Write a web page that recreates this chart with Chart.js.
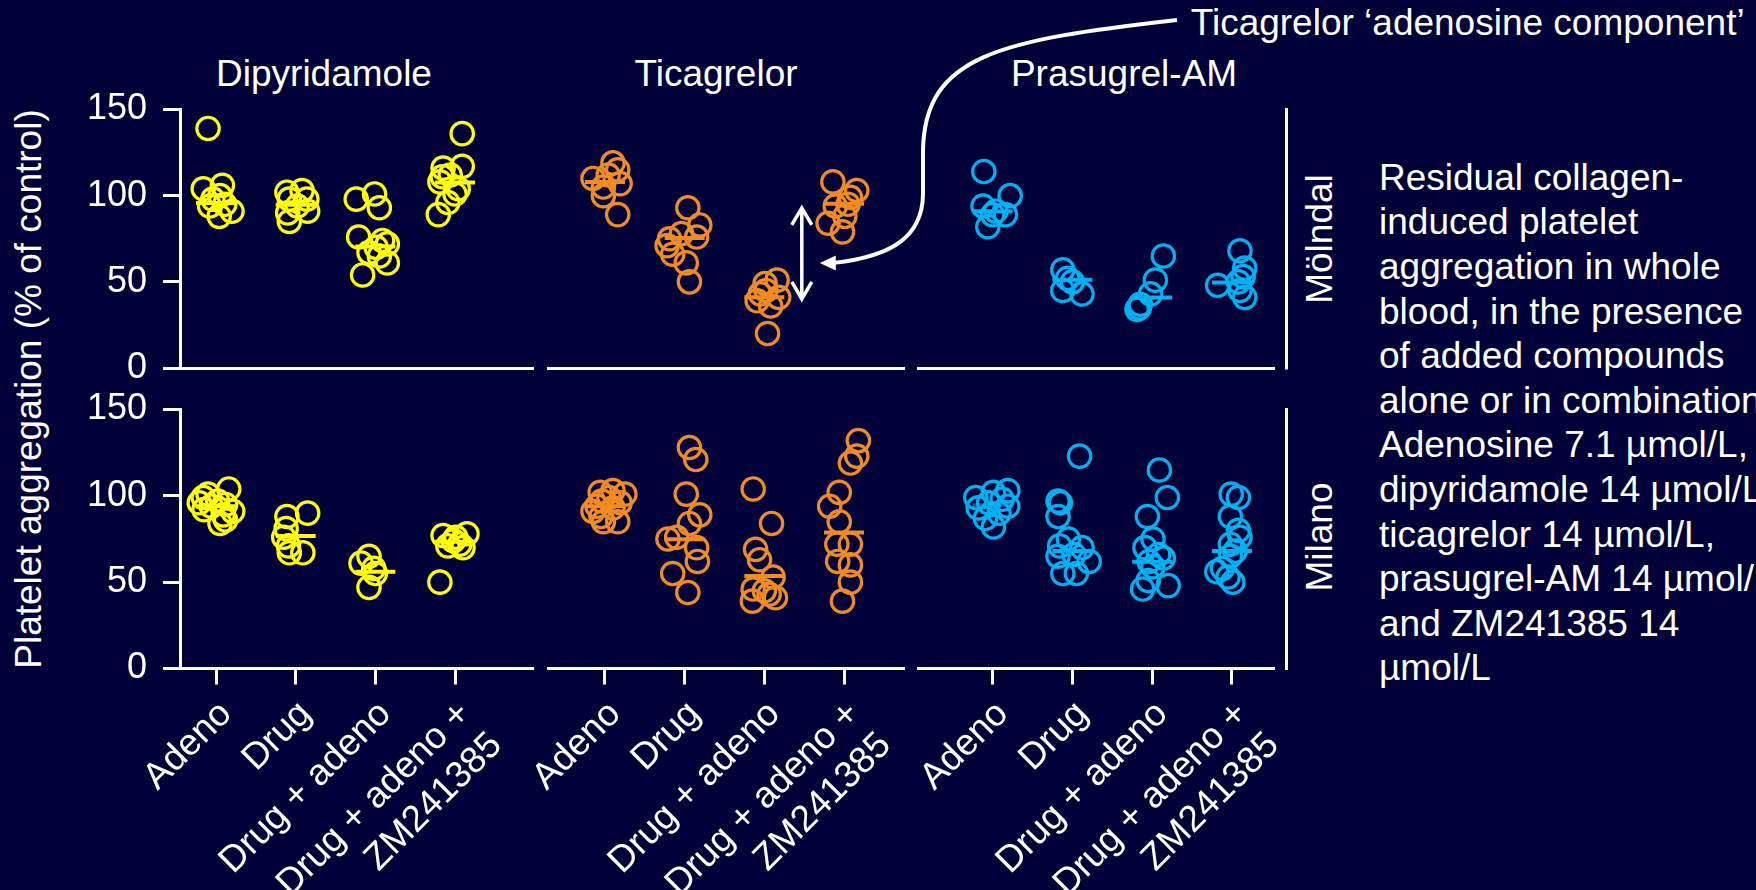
<!DOCTYPE html>
<html>
<head>
<meta charset="utf-8">
<script src="https://cdn.jsdelivr.net/npm/chart.js"></script>
<style>
  html, body { margin: 0; padding: 0; width: 1756px; height: 890px; overflow: hidden; background: #000038; }
  body { position: relative; font-family: "Liberation Sans", Arial, sans-serif; color: #fff; }
  canvas { position: absolute; left: 0; top: 0; }
  .t { position: absolute; white-space: pre; font-size: 37px; line-height: 37px; }
  .c { transform: translateX(-50%); }
  .r { transform: translate(-50%, -50%) rotate(-90deg); }
  .note { line-height: 44.6px; }
</style>
</head>
<body>
<div class="t" style="left:1190.7px; top:3.7px;">Ticagrelor ‘adenosine component’</div>
<div class="t c" style="left:324px; top:55.2px;">Dipyridamole</div>
<div class="t c" style="left:716px; top:55.2px;">Ticagrelor</div>
<div class="t c" style="left:1124px; top:55.2px;">Prasugrel-AM</div>
<div class="t r" style="left:28.2px; top:389px;">Platelet aggregation (% of control)</div>
<div class="t r" style="left:1319.2px; top:238.5px;">Mölndal</div>
<div class="t r" style="left:1319.2px; top:537px;">Milano</div>
<div class="t note" style="left:1379px; top:155.9px;">Residual collagen-
induced platelet
aggregation in whole
blood, in the presence
of added compounds
alone or in combination.
Adenosine 7.1 µmol/L,
dipyridamole 14 µmol/L,
ticagrelor 14 µmol/L,
prasugrel-AM 14 µmol/L
and ZM241385 14
µmol/L</div>

<script>
// ---- Data: platelet aggregation (% of control), one sub-array per treatment ----
const categories = ['Adeno', 'Drug', 'Drug + adeno', ['Drug + adeno +', 'ZM241385']];
const yTicks = [0, 50, 100, 150];

// Dipyridamole, Mölndal
const dipMolndal = [
  [139, 104, 106, 100, 94, 91, 88, 95, 98],
  [102, 103, 98, 98, 90, 85, 91, 94],
  [98, 101, 93, 76, 74, 72, 70, 67, 61, 54, 65],
  [136, 117, 116, 108, 101, 96, 89, 111, 104, 112]
];
const dipMolndalMedian = [95.7, 94.8, 70.5, 107.7];

// Ticagrelor, Mölndal
const ticMolndal = [
  [110, 119, 115, 107, 105, 100, 89, 112],
  [93, 83, 78, 76, 75, 71, 66, 61, 50],
  [49, 51, 43, 41, 36, 39, 20, 45],
  [108, 103, 99, 94, 88, 84, 79, 95]
];
const ticMolndalMedian = [108, 75.4, 41.1, 95.3];

// Prasugrel-AM, Mölndal
const prasMolndal = [
  [114, 100, 94, 89, 89, 82, 91],
  [57, 52, 45, 43, 50],
  [65, 51, 43, 37, 34, 35],
  [68, 58, 53, 45, 41, 48, 50]
];
const prasMolndalMedian = [90.9, 51.2, 40.9, 49.6];

// Dipyridamole, Milano
const dipMilano = [
  [104, 99, 101, 96, 97, 94, 92, 91, 89, 86, 84, 95],
  [90, 88, 81, 76, 71, 67, 67],
  [65, 61, 58, 55, 47],
  [78, 77, 76, 72, 71, 70, 74, 50]
];
const dipMilanoMedian = [94, 76.8, 56, 73.4];

// Ticagrelor, Milano
const ticMilano = [
  [102, 103, 101, 97, 96, 93, 91, 88, 85, 85, 99, 94],
  [128, 121, 101, 89, 84, 75, 76, 70, 62, 55, 44],
  [104, 84, 69, 63, 53, 46, 41, 39, 45, 43],
  [132, 123, 119, 102, 94, 85, 72, 72, 62, 60, 50, 39]
];
const ticMilanoMedian = [94, 74.9, 53.5, 78.8];

// Prasugrel-AM, Milano
const prasMilano = [
  [99, 102, 103, 93, 98, 94, 87, 82, 96, 90],
  [123, 97, 96, 88, 75, 71, 70, 65, 62, 55, 55, 66],
  [115, 99, 88, 75, 70, 64, 59, 51, 46, 48, 62, 66],
  [101, 99, 88, 80, 76, 72, 65, 56, 58, 53, 50, 68]
];
const prasMilanoMedian = [94.6, 68, 61.8, 68];

// Horizontal scatter of each dot around its category, in category widths
const dipMolndalSpread = [
  [-0.1, -0.16, 0.08, 0.05, -0.08, 0.2, 0.04, 0.11, -0.04],
  [-0.11, 0.08, -0.08, 0.14, -0.1, -0.08, 0.15, 0.02],
  [-0.24, -0.01, 0.05, -0.21, 0.09, 0.15, 0.01, -0.08, 0.15, -0.16, 0.05],
  [0.09, 0.09, -0.15, -0.19, 0, -0.09, -0.21, -0.16, 0.04, -0.06]
];
const ticMolndalSpread = [
  [-0.15, 0.1, 0.16, 0.19, -0.02, -0.02, 0.16, 0.04],
  [0.04, 0.19, -0.04, 0.15, -0.19, -0.22, -0.15, 0.02, 0.06],
  [0.01, 0.16, -0.05, 0.18, 0.08, -0.09, 0.04, 0.02],
  [-0.14, 0.16, 0.08, -0.11, 0.01, -0.2, -0.02, 0.05]
];
const prasMolndalSpread = [
  [-0.11, 0.22, -0.12, 0.16, 0, -0.06, 0.04],
  [-0.12, -0.06, -0.12, 0.12, 0],
  [0.14, 0.04, -0.02, -0.15, -0.19, -0.16],
  [0.1, 0.16, 0.14, 0.1, 0.16, -0.18, 0.08]
];
const dipMilanoSpread = [
  [0.16, -0.16, -0.1, -0.21, 0.02, -0.06, -0.15, 0.21, 0.09, 0.12, 0.05, 0.12],
  [0.15, -0.11, -0.12, -0.15, -0.09, -0.08, 0.09],
  [-0.08, -0.18, -0.02, 0, -0.08],
  [0.15, -0.15, 0.01, 0.06, -0.09, 0.1, -0.02, -0.19]
];
const ticMilanoSpread = [
  [-0.06, 0.1, 0.25, -0.04, 0.19, 0.1, -0.15, -0.05, 0.16, -0.02, 0.05, -0.1],
  [0.06, 0.14, 0.02, 0.19, 0.06, -0.21, -0.1, 0.15, 0.16, -0.15, 0.04],
  [-0.14, 0.09, -0.11, -0.06, 0.11, -0.14, 0.14, -0.15, 0, 0.06],
  [0.18, 0.16, 0.08, -0.06, -0.18, -0.06, -0.09, 0.08, -0.08, 0.08, 0.08, -0.02]
];
const prasMilanoSpread = [
  [-0.21, 0.01, 0.19, -0.18, 0.12, 0.19, -0.09, 0.01, -0.05, 0.08],
  [0.09, -0.18, -0.15, -0.18, -0.05, -0.16, 0.12, -0.18, 0.21, -0.12, 0.05, 0.02],
  [0.09, 0.19, -0.06, 0.01, -0.09, 0.14, 0.01, -0.05, -0.12, 0.2, -0.04, 0.08],
  [-0.01, 0.08, -0.02, 0.08, 0.1, -0.02, -0.02, -0.19, -0.12, -0.05, 0.01, 0.04]
];

// Span of the ticagrelor 'adenosine component' arrow and where the callout meets it
const componentSpan = [39.5, 93.5];
const componentPointer = 61;
const componentSlot = 2.47;

// ---- Styling and layout ----
const YELLOW = '#FFFF00', ORANGE = '#F08C23', BLUE = '#00B0F0', WHITE = '#FFFFFF';
const W = 1756, H = 890;
const rows = [{ top: 109.5, bottom: 368 }, { top: 409.5, bottom: 668.5 }];
const cols = [
  { left: 180, right: 532, min: -0.452, max: 3.966 },
  { left: 548, right: 903, min: -0.715, max: 3.74 },
  { left: 918, right: 1273, min: -0.935, max: 3.514 }
];

Chart.defaults.font.family = '"Liberation Sans", Arial, sans-serif';
Chart.defaults.color = WHITE;

const zeroPad = s => { s.paddingLeft = 0; s.paddingRight = 0; s.paddingTop = 0; s.paddingBottom = 0; };

// Vertical bracket line to the right of each row
const rowBracket = {
  id: 'rowBracket',
  afterDraw(chart) {
    const { ctx, chartArea, scales } = chart;
    const x = chartArea.right + 13.5;
    ctx.save();
    ctx.strokeStyle = WHITE;
    ctx.lineWidth = 3;
    ctx.beginPath();
    ctx.moveTo(x, scales.y.getPixelForValue(150) - 1.5);
    ctx.lineTo(x, scales.y.getPixelForValue(0) + 1.5);
    ctx.stroke();
    ctx.restore();
  }
};

// Double arrow between the ticagrelor medians and the curved callout from the label
const componentCallout = {
  id: 'componentCallout',
  afterDraw(chart) {
    const { ctx, scales } = chart;
    const x = scales.x.getPixelForValue(componentSlot);
    const yTop = scales.y.getPixelForValue(componentSpan[1]);
    const yBot = scales.y.getPixelForValue(componentSpan[0]);
    ctx.save();
    ctx.strokeStyle = WHITE;
    ctx.fillStyle = WHITE;
    ctx.lineWidth = 3.5;
    ctx.beginPath();
    ctx.moveTo(x, yTop + 1);
    ctx.lineTo(x, yBot - 1);
    ctx.moveTo(x - 10, yTop + 18);
    ctx.lineTo(x, yTop + 1);
    ctx.lineTo(x + 10, yTop + 18);
    ctx.moveTo(x - 10, yBot - 18);
    ctx.lineTo(x, yBot - 1);
    ctx.lineTo(x + 10, yBot - 18);
    ctx.stroke();

    const tipX = x + 18;
    const tipY = scales.y.getPixelForValue(componentPointer);
    ctx.lineWidth = 4;
    ctx.beginPath();
    ctx.moveTo(1177, 20);
    ctx.bezierCurveTo(1000, 40, 925, 55, 923, 150);
    ctx.lineTo(923, 195);
    ctx.bezierCurveTo(922, 235, 895, tipY - 7, tipX + 14, tipY);
    ctx.stroke();
    ctx.beginPath();
    ctx.moveTo(tipX, tipY);
    ctx.lineTo(tipX + 16, tipY - 7.5);
    ctx.lineTo(tipX + 16, tipY + 7.5);
    ctx.closePath();
    ctx.fill();
    ctx.restore();
  }
};

const panels = [
  { row: 0, col: 0, values: dipMolndal, spread: dipMolndalSpread, median: dipMolndalMedian, color: YELLOW },
  { row: 0, col: 1, values: ticMolndal, spread: ticMolndalSpread, median: ticMolndalMedian, color: ORANGE, extra: [componentCallout] },
  { row: 0, col: 2, values: prasMolndal, spread: prasMolndalSpread, median: prasMolndalMedian, color: BLUE, extra: [rowBracket] },
  { row: 1, col: 0, values: dipMilano, spread: dipMilanoSpread, median: dipMilanoMedian, color: YELLOW },
  { row: 1, col: 1, values: ticMilano, spread: ticMilanoSpread, median: ticMilanoMedian, color: ORANGE },
  { row: 1, col: 2, values: prasMilano, spread: prasMilanoSpread, median: prasMilanoMedian, color: BLUE, extra: [rowBracket],
    medianColors: ['#4E3F86', BLUE, BLUE, BLUE] }
];

function drawPanel(p) {
  const canvas = document.createElement('canvas');
  canvas.width = W;
  canvas.height = H;
  document.body.appendChild(canvas);
  const row = rows[p.row], col = cols[p.col];
  const bottomRow = p.row === 1, leftCol = p.col === 0;

  const dots = [];
  p.values.forEach((group, c) => group.forEach((v, i) => dots.push({ x: c + p.spread[c][i], y: v })));
  const medians = p.median.map((v, c) => ({ x: c, y: v }));

  // The axis boxes reach the canvas edges so their labels are not clipped
  const xBand = bottomRow ? H - row.bottom : 0;
  const yBand = leftCol ? col.left : 0;

  return new Chart(canvas, {
    type: 'scatter',
    data: {
      datasets: [
        {
          data: dots,
          pointStyle: 'circle',
          pointRadius: 11.2,
          pointBorderWidth: 3.2,
          pointBorderColor: p.color,
          pointBackgroundColor: 'rgba(0,0,0,0)',
          clip: false
        },
        {
          data: medians,
          pointStyle: 'line',
          pointRadius: 20,
          pointBorderWidth: 4,
          pointBorderColor: p.medianColors || p.color,
          pointBackgroundColor: p.color,
          clip: false
        }
      ]
    },
    options: {
      responsive: false,
      animation: false,
      devicePixelRatio: 1,
      events: [],
      layout: {
        autoPadding: false,
        padding: { left: col.left - yBand, right: W - col.right, top: row.top, bottom: H - row.bottom - xBand }
      },
      plugins: { legend: { display: false }, tooltip: { enabled: false } },
      scales: {
        x: {
          type: 'linear',
          position: 'bottom',
          min: col.min,
          max: col.max,
          afterBuildTicks: s => { s.ticks = categories.map((_, i) => ({ value: i })); },
          afterFit: s => { s.height = xBand; zeroPad(s); },
          border: { display: true, color: WHITE, width: 3 },
          grid: { display: bottomRow, drawOnChartArea: false, drawTicks: bottomRow, tickLength: 16, color: WHITE, lineWidth: 3 },
          ticks: {
            display: bottomRow,
            autoSkip: false,
            minRotation: 45,
            maxRotation: 45,
            padding: 8,
            labelOffset: 10,
            color: WHITE,
            font: { size: 37 },
            callback: v => categories[v]
          }
        },
        y: {
          type: 'linear',
          position: 'left',
          display: leftCol,
          min: 0,
          max: 150,
          afterBuildTicks: s => { s.ticks = yTicks.map(v => ({ value: v })); },
          afterFit: s => { s.width = yBand; zeroPad(s); },
          border: { display: true, color: WHITE, width: 3 },
          grid: { drawOnChartArea: false, drawTicks: true, tickLength: 17, color: WHITE, lineWidth: 3 },
          ticks: { padding: 16, color: WHITE, font: { size: 36 } }
        }
      }
    },
    plugins: p.extra || []
  });
}

panels.forEach(drawPanel);
</script>
</body>
</html>
